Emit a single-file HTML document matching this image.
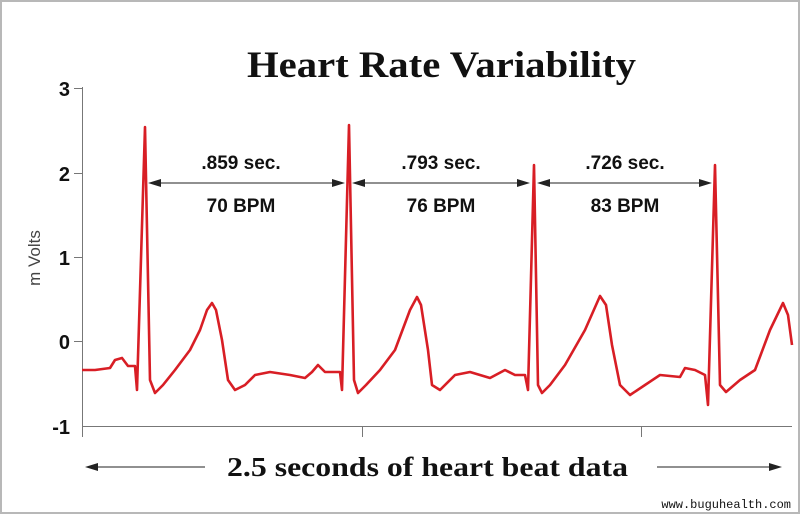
<!DOCTYPE html>
<html><head><style>body{margin:0;background:#fff}</style></head><body>
<svg width="800" height="514" viewBox="0 0 800 514" xmlns="http://www.w3.org/2000/svg">
<rect x="1" y="1" width="798" height="512" fill="#fff" stroke="#b8b8b8" stroke-width="2"/>
<text x="247" y="77" textLength="389" lengthAdjust="spacingAndGlyphs" font-family="Liberation Serif, serif" font-weight="bold" font-size="37" fill="#111">Heart Rate Variability</text>
<g stroke="#777" stroke-width="1" fill="none">
<line x1="82.5" y1="87" x2="82.5" y2="437"/>
<line x1="82" y1="426.5" x2="792" y2="426.5"/>
<line x1="362.5" y1="426" x2="362.5" y2="437"/>
<line x1="641.5" y1="426" x2="641.5" y2="437"/>
<line x1="74" y1="88.5" x2="82" y2="88.5"/>
<line x1="74" y1="173.5" x2="82" y2="173.5"/>
<line x1="74" y1="257.5" x2="82" y2="257.5"/>
<line x1="74" y1="341.5" x2="82" y2="341.5"/>
</g>
<g font-family="Liberation Sans, sans-serif" font-weight="bold" font-size="20" fill="#111" text-anchor="end">
<text x="70" y="96">3</text><text x="70" y="181">2</text><text x="70" y="265">1</text><text x="70" y="349">0</text><text x="70" y="434">-1</text>
</g>
<text transform="translate(40,258) rotate(-90)" font-family="Liberation Sans, sans-serif" font-size="17" fill="#444" text-anchor="middle">m Volts</text>
<path fill="none" stroke="#d81e25" stroke-width="2.6" stroke-linejoin="round" d="M82,370 L95,370 L110,368 L115,360 L122,358 L128,366 L135,366 L137,390 L145,127 L150,380 L155,393 L163,385 L175,370 L190,350 L200,330 L207,310 L212,303 L216,310 L222,340 L228,380 L235,390 L245,385 L255,375 L270,372 L290,375 L305,378 L312,372 L318,365 L325,372 L340,372 L342,390 L349,125 L354,380 L358,393 L366,385 L380,370 L395,350 L410,310 L417,297 L421,305 L428,350 L432,385 L440,390 L455,375 L470,372 L490,378 L505,370 L515,375 L525,375 L528,390 L534,165 L538,385 L542,393 L550,385 L565,365 L585,330 L600,296 L606,305 L612,345 L620,385 L630,395 L645,385 L660,375 L680,377 L685,368 L695,370 L705,375 L708,405 L715,165 L720,385 L726,392 L740,380 L755,370 L770,330 L783,303 L788,315 L792,345"/>
<g stroke="#222" stroke-width="1">
<line x1="150" y1="183" x2="343" y2="183"/><line x1="354" y1="183" x2="528" y2="183"/><line x1="539" y1="183" x2="710" y2="183"/>
<line x1="95" y1="467" x2="205" y2="467"/><line x1="657" y1="467" x2="772" y2="467"/>
</g>
<g fill="#222">
<polygon points="148,183 161,179 161,187"/><polygon points="345,183 332,179 332,187"/>
<polygon points="352,183 365,179 365,187"/><polygon points="530,183 517,179 517,187"/>
<polygon points="537,183 550,179 550,187"/><polygon points="712,183 699,179 699,187"/>
<polygon points="85,467 98,463 98,471"/><polygon points="782,467 769,463 769,471"/>
</g>
<g font-family="Liberation Sans, sans-serif" font-weight="bold" font-size="19" fill="#111" text-anchor="middle">
<text x="241" y="169">.859 sec.</text><text x="241" y="212">70 BPM</text>
<text x="441" y="169">.793 sec.</text><text x="441" y="212">76 BPM</text>
<text x="625" y="169">.726 sec.</text><text x="625" y="212">83 BPM</text>
</g>
<text x="227" y="476" textLength="401" lengthAdjust="spacingAndGlyphs" font-family="Liberation Serif, serif" font-weight="bold" font-size="27" fill="#111">2.5 seconds of heart beat data</text>
<text x="791" y="508" font-family="Liberation Mono, monospace" font-size="12" fill="#111" text-anchor="end">www.buguhealth.com</text>
</svg>
</body></html>
